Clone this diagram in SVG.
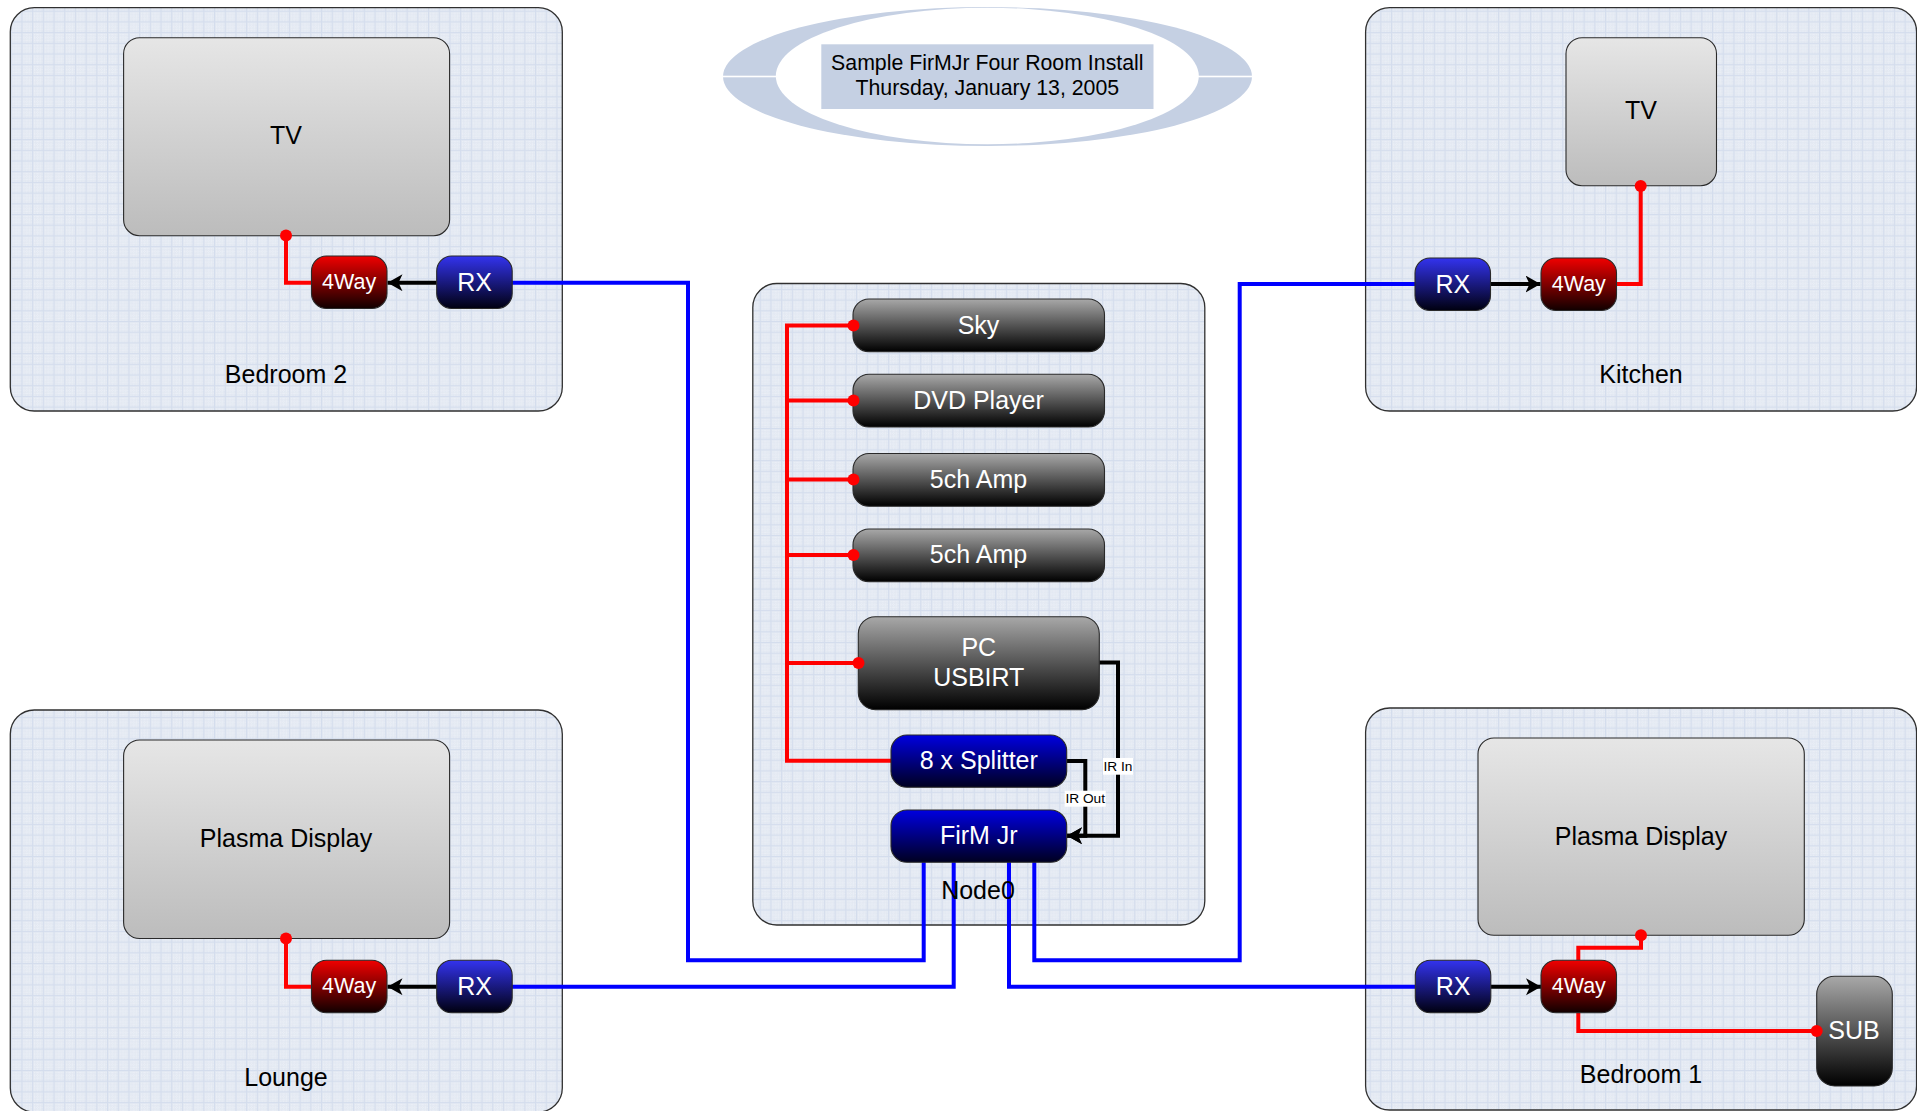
<svg xmlns="http://www.w3.org/2000/svg" width="1917" height="1111" viewBox="0 0 1917 1111">
<style>
text{font-family:"Liberation Sans",Arial,sans-serif;text-anchor:middle;dominant-baseline:central}
.room{fill:url(#grid);stroke:#303030;stroke-width:1.3}
.n{stroke:#2a2a2a;stroke-width:1.1}
.tv{fill:url(#gTv)}.dk{fill:url(#gDk)}.bl{fill:url(#gBl)}.rx{fill:url(#gRx)}.red{fill:url(#gRed)}
.k{font-size:25px;fill:#000}.w{font-size:25px;fill:#fff}.s{font-size:21.5px;fill:#fff}.t{font-size:21.3px;fill:#000}.l{font-size:13.7px;fill:#000}
.r,.b,.a{fill:none;stroke-linejoin:miter}
.r{stroke:#f00;stroke-width:4}.b{stroke:#00f;stroke-width:4}.a{stroke:#000;stroke-width:4}
.d{fill:#f00}
</style>
<defs>
<pattern id="grid" width="10.7" height="10.7" patternUnits="userSpaceOnUse">
<rect width="10.7" height="10.7" fill="#e2e8f2"/>
<path d="M2.67 0V10.7M5.35 0V10.7M8.02 0V10.7M0 2.67H10.7M0 5.35H10.7M0 8.02H10.7" stroke="#eef2f8" stroke-width=".8" stroke-dasharray="1 1"/>
<path d="M.5 0V10.7M0 .5H10.7" stroke="#d4dded" stroke-width="1"/>
</pattern>
<linearGradient id="gTv" x1="0" y1="0" x2="0" y2="1"><stop offset="0" stop-color="#e6e6e6"/><stop offset="1" stop-color="#bcbcbc"/></linearGradient>
<linearGradient id="gDk" x1="0" y1="0" x2="0" y2="1"><stop offset="0" stop-color="#a8a8a8"/><stop offset="1" stop-color="#000"/></linearGradient>
<linearGradient id="gBl" x1="0" y1="0" x2="0" y2="1"><stop offset="0" stop-color="#0000e0"/><stop offset="1" stop-color="#000020"/></linearGradient>
<linearGradient id="gRx" x1="0" y1="0" x2="0" y2="1"><stop offset="0" stop-color="#3333ee"/><stop offset="1" stop-color="#000010"/></linearGradient>
<linearGradient id="gRed" x1="0" y1="0" x2="0" y2="1"><stop offset="0" stop-color="#f00000"/><stop offset="1" stop-color="#100000"/></linearGradient>
<marker id="arr" markerUnits="userSpaceOnUse" markerWidth="18" markerHeight="18" refX="15" refY="8.5" orient="auto"><path d="M0 0L4 8.5L0 17L15 8.5Z" fill="#000"/></marker>
<mask id="ring"><rect width="1917" height="200" fill="#fff"/><ellipse cx="987.3" cy="76" rx="211.500" ry="68.300" fill="#000"/><rect x="700" y="75.700" width="575" height="1.600" fill="#000"/></mask>
</defs>

<g id="title">
<ellipse cx="987.500" cy="76.500" rx="264.500" ry="69.500" fill="#c5d0e3" mask="url(#ring)"/>
<rect x="821.300" y="44.300" width="332.200" height="64.700" fill="#c5d0e3"/>
<text class="t" x="987.300" y="62.700">Sample FirMJr Four Room Install</text>
<text class="t" x="987.300" y="88">Thursday, January 13, 2005</text>
</g>

<g id="room-bedroom2"><rect class="room" x="10.300" y="7.700" width="552" height="403.300" rx="24"/><text class="k" x="286" y="373.500">Bedroom 2</text></g>
<g id="room-kitchen"><rect class="room" x="1365.600" y="7.700" width="551" height="403.300" rx="24"/><text class="k" x="1641" y="373.500">Kitchen</text></g>
<g id="room-lounge"><rect class="room" x="10.300" y="710" width="552" height="402" rx="24"/><text class="k" x="286" y="1076.500">Lounge</text></g>
<g id="room-bedroom1"><rect class="room" x="1365.600" y="708" width="551" height="402" rx="24"/><text class="k" x="1641" y="1074.300">Bedroom 1</text></g>
<g id="room-node0"><rect class="room" x="752.800" y="283.500" width="452" height="641.500" rx="24"/></g>

<g id="tv-bedroom2"><rect class="n tv" x="123.600" y="37.700" width="326" height="198" rx="16"/><text class="k" x="286" y="135">TV</text></g>
<g id="tv-kitchen"><rect class="n tv" x="1566" y="37.700" width="150.500" height="148" rx="16"/><text class="k" x="1641" y="110">TV</text></g>
<g id="plasma-lounge"><rect class="n tv" x="123.600" y="740" width="326" height="198.500" rx="16"/><text class="k" x="286" y="837.500">Plasma Display</text></g>
<g id="plasma-bedroom1"><rect class="n tv" x="1478" y="738" width="326.300" height="197.300" rx="16"/><text class="k" x="1641" y="836">Plasma Display</text></g>

<g id="connectors">
<path class="r" d="M286 235.500V282.700H311.500"/>
<path class="a" d="M436.700 282.700H387.500" marker-end="url(#arr)"/>
<path class="r" d="M1616.500 284H1640.700V186"/>
<path class="a" d="M1490.600 284H1540.500" marker-end="url(#arr)"/>
<path class="r" d="M286 938.500V986.700H311.500"/>
<path class="a" d="M436.700 986.700H387.500" marker-end="url(#arr)"/>
<path class="a" d="M1490.700 986.700H1541" marker-end="url(#arr)"/>
<path class="r" d="M1578.300 960.300V947.700H1641V935.300"/>
<path class="r" d="M1578.300 1012.700V1031H1816.700"/>
<path class="r" d="M853 325.500H787V760.700H891M787 400.500H853M787 479.500H853M787 555H853M787 663H858.300"/>
<path class="a" d="M1099.300 662.500H1118V835.700H1067" marker-end="url(#arr)"/>
<path class="a" d="M1066.700 761H1085.300V835.700H1067" marker-end="url(#arr)"/>
<path class="b" d="M512 282.700H688V960.300H923.700V862"/>
<path class="b" d="M512 986.700H953.700V862"/>
<path class="b" d="M1415 986.700H1009V862"/>
<path class="b" d="M1415 284H1239.700V960.300H1034.300V862"/>
</g>

<g id="node0-label"><text class="k" x="978" y="890">Node0</text></g>
<g id="label-ir-in"><rect x="1103" y="758" width="30" height="16.700" fill="#fff"/><text class="l" x="1118" y="766.300">IR In</text></g>
<g id="label-ir-out"><rect x="1064.700" y="790.700" width="41" height="16" fill="#fff"/><text class="l" x="1085.200" y="798.700">IR Out</text></g>

<g id="way4-bedroom2"><rect class="n red" x="311.500" y="256" width="75.500" height="52.500" rx="15"/><text class="s" x="349.200" y="281.500">4Way</text></g>
<g id="rx-bedroom2"><rect class="n rx" x="436.700" y="256" width="75.500" height="52.500" rx="15"/><text class="w" x="474.500" y="281.500">RX</text></g>
<g id="rx-kitchen"><rect class="n rx" x="1415" y="258" width="75.500" height="52.500" rx="15"/><text class="w" x="1452.800" y="283.500">RX</text></g>
<g id="way4-kitchen"><rect class="n red" x="1541" y="258" width="75.500" height="52.500" rx="15"/><text class="s" x="1578.800" y="283.500">4Way</text></g>
<g id="way4-lounge"><rect class="n red" x="311.500" y="960.300" width="75.500" height="52.500" rx="15"/><text class="s" x="349.200" y="985.800">4Way</text></g>
<g id="rx-lounge"><rect class="n rx" x="436.700" y="960.300" width="75.500" height="52.500" rx="15"/><text class="w" x="474.500" y="985.800">RX</text></g>
<g id="rx-bedroom1"><rect class="n rx" x="1415.300" y="960.300" width="75.500" height="52.500" rx="15"/><text class="w" x="1453" y="985.800">RX</text></g>
<g id="way4-bedroom1"><rect class="n red" x="1541" y="960.300" width="75.500" height="52.500" rx="15"/><text class="s" x="1578.800" y="985.800">4Way</text></g>
<g id="sub"><rect class="n dk" x="1816.700" y="976.300" width="75.600" height="109.700" rx="18"/><text class="w" x="1854" y="1030">SUB</text></g>

<g id="sky"><rect class="n dk" x="853" y="299" width="251.500" height="52.700" rx="16"/><text class="w" x="978.500" y="324.500">Sky</text></g>
<g id="dvd"><rect class="n dk" x="853" y="374.300" width="251.500" height="52.700" rx="16"/><text class="w" x="978.500" y="399.800">DVD Player</text></g>
<g id="amp1"><rect class="n dk" x="853" y="453.500" width="251.500" height="52.700" rx="16"/><text class="w" x="978.500" y="478.500">5ch Amp</text></g>
<g id="amp2"><rect class="n dk" x="853" y="529" width="251.500" height="52.700" rx="16"/><text class="w" x="978.500" y="553.500">5ch Amp</text></g>
<g id="pc"><rect class="n dk" x="858.300" y="616.700" width="241" height="93" rx="17"/><text class="w" x="978.800" y="647">PC</text><text class="w" x="978.800" y="677">USBIRT</text></g>
<g id="splitter"><rect class="n bl" x="891" y="735" width="175.700" height="52.300" rx="16"/><text class="w" x="978.800" y="759.500">8 x Splitter</text></g>
<g id="firm"><rect class="n bl" x="891" y="810" width="175.700" height="52.300" rx="16"/><text class="w" x="978.800" y="834.500">FirM Jr</text></g>

<g id="ports">
<circle class="d" cx="286" cy="235.500" r="6"/><circle class="d" cx="1640.700" cy="186" r="6"/><circle class="d" cx="286" cy="938.500" r="6"/><circle class="d" cx="1641" cy="935.300" r="6"/><circle class="d" cx="1816.700" cy="1031" r="6"/>
<circle class="d" cx="853.500" cy="325.500" r="6"/><circle class="d" cx="853.500" cy="400.500" r="6"/><circle class="d" cx="853.500" cy="479.500" r="6"/><circle class="d" cx="853.500" cy="555" r="6"/><circle class="d" cx="858.500" cy="663" r="6"/>
</g>
</svg>
